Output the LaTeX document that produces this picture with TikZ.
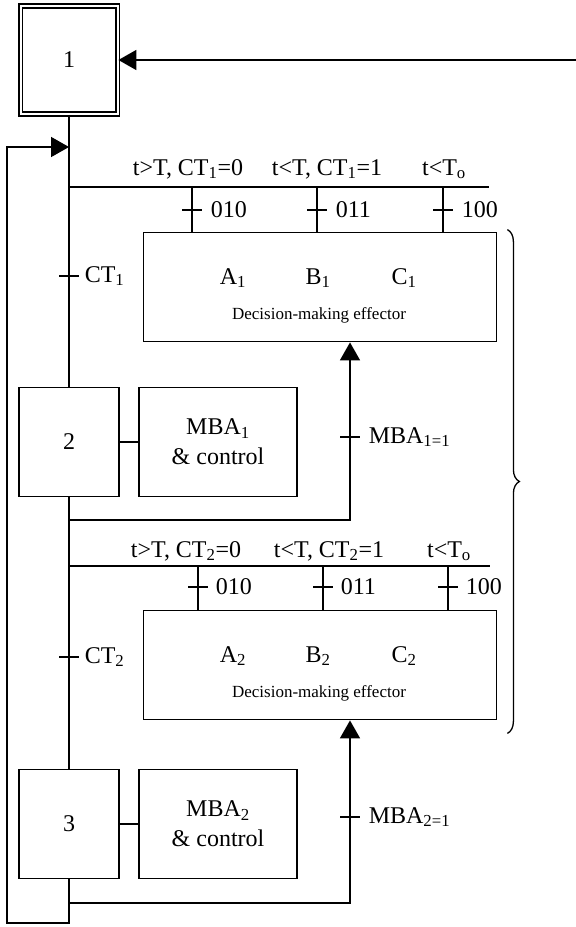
\documentclass[tikz,border=0pt]{standalone}
\usepackage{fontspec}
\setmainfont{Liberation Serif}
\usetikzlibrary{positioning, arrows.meta, calc, decorations.pathreplacing}

\begin{document}
\begin{tikzpicture}[
    x=1pt, y=-1pt,
    font=\fontsize{24}{30}\selectfont,
    line/.style={line width=1.6pt},
    arrow/.style={line width=1.6pt, -{Triangle[length=18pt, width=20pt]}},
    stepbox/.style={draw, line width=1.8pt, minimum width=100pt, minimum height=109pt, inner sep=0pt},
    initstep/.style={draw, double, line width=1.8pt, double distance=2pt, minimum width=97pt, minimum height=108pt, inner sep=0pt},
    actbox/.style={draw, line width=1.8pt, minimum width=158pt, minimum height=109pt, align=center},
    effbox/.style={draw, line width=1.8pt, minimum width=353pt, minimum height=109pt},
    small/.style={font=\fontsize{17}{20}\selectfont},
    cond/.style={anchor=base, inner sep=0pt},
    tick/.style={line width=1.6pt}
  ]
  \useasboundingbox (0,0) rectangle (576,927);

  % Steps and actions
  \node[initstep] (s1) at (69,60) {1};
  \node[stepbox] (s2) at (69,442) {2};
  \node[stepbox] (s3) at (69,824) {3};
  \node[actbox] (a1) at (218,442) {MBA\textsubscript{1}\\\& control};
  \node[actbox] (a2) at (218,824) {MBA\textsubscript{2}\\\& control};
  \draw[line] (s2) -- (a1);
  \draw[line] (s3) -- (a2);

  % Decision-making effectors
  \node[effbox] (e1) at (320,287) {};
  \node[cond] (e1a) at (233,284) {A\textsubscript{1}};
  \node[cond] (e1b) at (318,284) {B\textsubscript{1}};
  \node[cond] (e1c) at (404,284) {C\textsubscript{1}};
  \node[cond, small] (e1t) at (319,319) {Decision-making effector};

  \node[effbox] (e2) at (320,665) {};
  \node[cond] (e2a) at (233,662) {A\textsubscript{2}};
  \node[cond] (e2b) at (318,662) {B\textsubscript{2}};
  \node[cond] (e2c) at (404,662) {C\textsubscript{2}};
  \node[cond, small] (e2t) at (319,697) {Decision-making effector};

  % Main sequence
  \coordinate (feed) at (576,60);
  \draw[arrow] (feed) -- (s1.east);
  \draw[line] (s1.south) -- (s2.north);
  \draw[line] (s2.south) -- (s3.north);
  \draw[tick] (59,276) -- (79,276) node[right, inner sep=5pt] (ct1) {CT\textsubscript{1}};
  \draw[tick] (59,657) -- (79,657) node[right, inner sep=5pt] (ct2) {CT\textsubscript{2}};

  % Loop back to step 1
  \coordinate (loopin) at (69,147);
  \coordinate (back) at (7,923);
  \draw[arrow] (s3.south) |- (back) |- (loopin);

  % First selection
  \coordinate (bar1) at (69,187);
  \coordinate (bar1end) at (489,187);
  \draw[line] (bar1) -- (bar1end);
  \node[cond] (c11) at (188,175) {t>T, CT\textsubscript{1}=0};
  \node[cond] (c12) at (327,175) {t<T, CT\textsubscript{1}=1};
  \node[cond] (c13) at (444,175) {t<T\textsubscript{o}};
  \foreach \x/\code [count=\i] in {192/010, 317/011, 443/100} {
    \coordinate (d1\i) at (\x,187);
    \draw[line] (d1\i) -- (d1\i |- e1.north);
    \draw[tick] (\x-10,210) -- (\x+10,210) node[right, inner sep=8pt] {\code};
  }

  % Second selection
  \coordinate (bar2) at (69,566);
  \coordinate (bar2end) at (490,566);
  \draw[line] (bar2) -- (bar2end);
  \node[cond] (c21) at (186,557) {t>T, CT\textsubscript{2}=0};
  \node[cond] (c22) at (329,557) {t<T, CT\textsubscript{2}=1};
  \node[cond] (c23) at (449,557) {t<T\textsubscript{o}};
  \foreach \x/\code [count=\i] in {198/010, 323/011, 448/100} {
    \coordinate (d2\i) at (\x,566);
    \draw[line] (d2\i) -- (d2\i |- e2.north);
    \draw[tick] (\x-10,587) -- (\x+10,587) node[right, inner sep=7pt] {\code};
  }

  % Feedback to effectors
  \coordinate (fb1) at (350,520);
  \coordinate (fb2) at (350,903);
  \draw[arrow] (s2.south) |- (fb1) -- (e1.south -| fb1);
  \draw[arrow] (s3.south) |- (fb2) -- (e2.south -| fb2);
  \draw[tick] (340,437) -- (360,437) node[right, inner sep=8pt] (m1) {MBA\textsubscript{1=1}};
  \draw[tick] (340,817) -- (360,817) node[right, inner sep=8pt] (m2) {MBA\textsubscript{2=1}};

  % Brace
  \draw[decorate, decoration={brace, amplitude=12pt}, line width=1.3pt]
    ([xshift=10pt, yshift=2pt]e1.north east) -- ([xshift=10pt, yshift=-13pt]e2.south east);

\end{tikzpicture}
\end{document}
